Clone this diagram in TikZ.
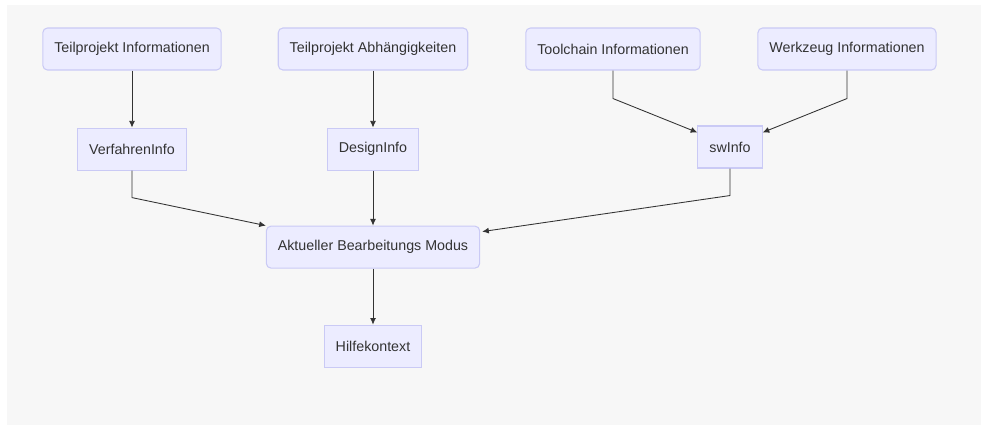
\documentclass[tikz,border=0pt]{standalone}
\usepackage{fontspec}
\setmainfont{Liberation Sans}
\usetikzlibrary{arrows.meta,positioning,calc}
\definecolor{nodefill}{HTML}{ECECFF}
\definecolor{nodeline}{HTML}{CACAF5}
\definecolor{edgeline}{HTML}{333333}
\definecolor{panel}{HTML}{F7F7F7}

\begin{document}
\begin{tikzpicture}[
      x=0.75pt, y=0.75pt,
      font=\fontsize{10.7}{12}\selectfont, text=edgeline,
      box/.style={draw=nodeline, fill=nodefill, line width=0.8pt,
                  align=center, minimum height=31.5pt, inner xsep=8.6pt},
      rbox/.style={box, rounded corners=3.5pt},
      arr/.style={-{Latex[length=5pt,width=4.5pt]}, draw=edgeline,
                  line width=0.65pt}
    ]
    \useasboundingbox (0,0) rectangle (981,-425);
    \fill[panel] (7,-5) rectangle (981,-425);

    % sources
    \node[rbox] (tpi) at (132,-49) {Teilprojekt Informationen};
    \node[rbox] (tpa) at (373,-49) {Teilprojekt Abhängigkeiten};
    \node[rbox] (tc)  at (613,-49) {Toolchain Informationen};
    \node[rbox] (wz)  at (847,-49) {Werkzeug Informationen};

    % info objects
    \node[box, below=42.75pt of tpi] (verf) {VerfahrenInfo};
    \node[box, below=42.75pt of tpa] (des) {DesignInfo};
    \node[box] (sw) at (730,-147) {swInfo};

    % mode and help
    \node[rbox, below=41.25pt of des] (akt) {Aktueller Bearbeitungs Modus};
    \node[box, below=42pt of akt] (hil) {Hilfekontext};

    \draw[arr] (tpi) -- (verf);
    \draw[arr] (tpa) -- (des);
    \draw[arr] (tc.south) -- ++(0,-28) -- ($(sw.north west)+(0,-7)$);
    \draw[arr] (wz.south) -- ++(0,-28) -- ($(sw.north east)+(0,-7)$);

    \draw[arr] (verf.south) -- ++(0,-27) -- (akt.north west);
    \draw[arr] (des) -- (akt);
    \draw[arr] (sw.south) -- ++(0,-27) -- ($(akt.north east)+(2,-6)$);

    \draw[arr] (akt) -- (hil);
  \end{tikzpicture}
\end{document}
